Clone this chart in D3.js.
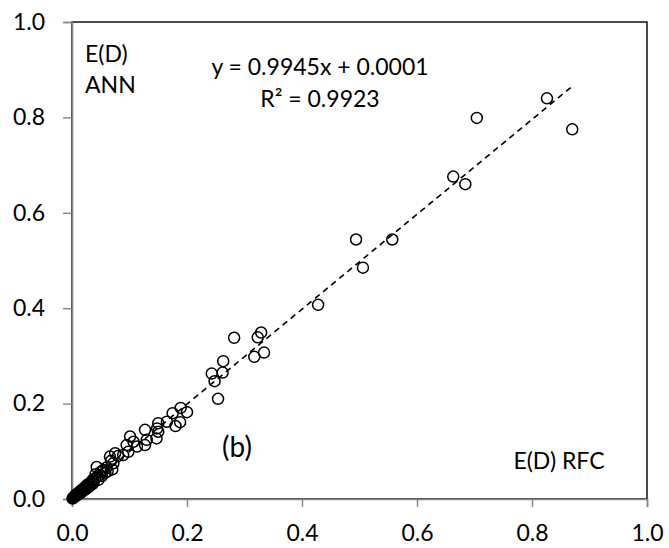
<!DOCTYPE html>
<html>
<head>
    <title>E(D) ANN vs RFC</title>
    <meta charset="utf-8" />
    <script src="https://cdn.jsdelivr.net/npm/d3@7"></script>
    <style>
        body { margin: 0; background: #fff; }
        text { font-family: Lato, "Open Sans", sans-serif; fill: #000; }
    </style>
</head>
<body>
    <script>
        // E(D) RFC (x) vs E(D) ANN (y)
        var rfc = [
            0.826, 0.870, 0.704, 0.663, 0.684, 0.494, 0.557, 0.506, 0.428,
            0.282, 0.329, 0.323, 0.334, 0.317, 0.263, 0.243, 0.262, 0.248, 0.254,
            0.189, 0.200, 0.175, 0.188, 0.180, 0.165, 0.150, 0.148, 0.150, 0.147,
            0.127, 0.130, 0.101, 0.107, 0.127, 0.095, 0.113, 0.098, 0.089,
            0.080, 0.075, 0.066, 0.072, 0.070, 0.060, 0.058, 0.055, 0.052, 0.050,
            0.048, 0.046, 0.043, 0.044, 0.040, 0.038, 0.036, 0.035, 0.033, 0.031,
            0.030, 0.028, 0.027, 0.025, 0.024, 0.022, 0.021, 0.020, 0.018, 0.017,
            0.016, 0.015, 0.014, 0.013, 0.012, 0.011, 0.010, 0.009, 0.008, 0.007,
            0.006, 0.005, 0.004, 0.003, 0.002, 0.001, 0.062, 0.068, 0.053, 0.041
        ];
        var ann = [
            0.840, 0.775, 0.799, 0.676, 0.660, 0.544, 0.544, 0.485, 0.407,
            0.338, 0.349, 0.339, 0.307, 0.298, 0.289, 0.263, 0.265, 0.247, 0.210,
            0.191, 0.182, 0.180, 0.161, 0.153, 0.162, 0.159, 0.148, 0.141, 0.127,
            0.145, 0.124, 0.131, 0.120, 0.113, 0.113, 0.110, 0.099, 0.092,
            0.090, 0.096, 0.089, 0.075, 0.062, 0.066, 0.055, 0.061, 0.048, 0.057,
            0.050, 0.040, 0.067, 0.047, 0.043, 0.036, 0.040, 0.031, 0.035, 0.030,
            0.026, 0.031, 0.024, 0.028, 0.021, 0.024, 0.018, 0.022, 0.017, 0.019,
            0.014, 0.017, 0.012, 0.015, 0.011, 0.012, 0.009, 0.011, 0.007, 0.009,
            0.006, 0.006, 0.005, 0.003, 0.003, 0.001, 0.058, 0.080, 0.059, 0.052
        ];
        var ticks = [0, 0.2, 0.4, 0.6, 0.8, 1.0];
        var slope = 0.9945, intercept = 0.0001;
        var fitRange = [0, 0.871];

        var width = 669, height = 548;
        var margin = { top: 22, right: 22, bottom: 49, left: 72 };

        var svg = d3.select("body").append("svg")
            .attr("width", width)
            .attr("height", height);

        var x = d3.scaleLinear().domain([0, 1]).range([margin.left, width - margin.right]);
        var y = d3.scaleLinear().domain([0, 1]).range([height - margin.bottom, margin.top]);

        // frame (top/right)
        svg.append("rect")
            .attr("x", x(0)).attr("y", y(1))
            .attr("width", x(1) - x(0)).attr("height", y(0) - y(1))
            .attr("fill", "none").attr("stroke", "#000").attr("stroke-width", 1.4);

        var xAxis = svg.append("g")
            .attr("transform", "translate(0," + y(0) + ")")
            .call(d3.axisBottom(x).tickValues(ticks).tickSize(8).tickPadding(18).tickFormat(d3.format(".1f")));
        var yAxis = svg.append("g")
            .attr("transform", "translate(" + x(0) + ",0)")
            .call(d3.axisLeft(y).tickValues(ticks).tickSize(9).tickPadding(18).tickFormat(d3.format(".1f")));

        [xAxis, yAxis].forEach(function (g) {
            g.select(".domain").attr("stroke", "#868686").attr("stroke-width", 1.6);
            g.selectAll(".tick line").attr("stroke", "#868686").attr("stroke-width", 1.4);
            g.selectAll("text").style("font-size", "23px").attr("fill", "#000");
        });

        // trend line
        svg.append("line")
            .attr("x1", x(fitRange[0])).attr("y1", y(slope * fitRange[0] + intercept))
            .attr("x2", x(fitRange[1])).attr("y2", y(slope * fitRange[1] + intercept))
            .attr("stroke", "#000").attr("stroke-width", 1.6)
            .attr("stroke-dasharray", "6,4.5");

        svg.selectAll("circle.pt")
            .data(rfc).enter()
            .append("circle")
            .attr("class", "pt")
            .attr("cx", function (d) { return x(d); })
            .attr("cy", function (d, i) { return y(ann[i]); })
            .attr("r", 5.5)
            .attr("fill", "none")
            .attr("stroke", "#000")
            .attr("stroke-width", 1.5);

        var labels = [
            { t: "E(D)", x: 85, y: 62, a: "start", s: 23 },
            { t: "ANN", x: 85, y: 93, a: "start", s: 23 },
            { t: "y = 0.9945x + 0.0001", x: 320, y: 75, a: "middle", s: 23 },
            { t: "R² = 0.9923", x: 320, y: 107, a: "middle", s: 23 },
            { t: "(b)", x: 237, y: 457, a: "middle", s: 28 },
            { t: "E(D) RFC", x: 559, y: 469, a: "middle", s: 23 }
        ];
        svg.selectAll("text.lbl")
            .data(labels).enter()
            .append("text")
            .attr("class", "lbl")
            .attr("x", function (d) { return d.x; })
            .attr("y", function (d) { return d.y; })
            .attr("text-anchor", function (d) { return d.a; })
            .style("font-size", function (d) { return d.s + "px"; })
            .text(function (d) { return d.t; });
    </script>
</body>
</html>
